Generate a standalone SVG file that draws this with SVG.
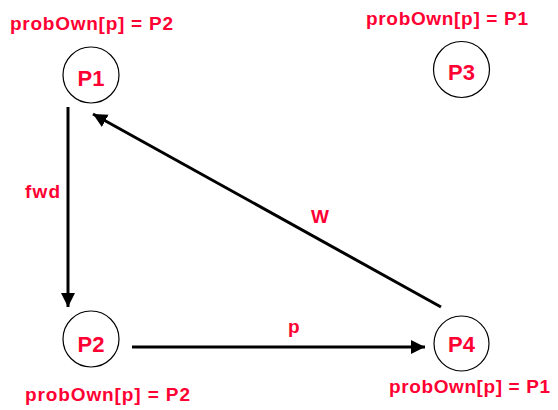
<svg xmlns="http://www.w3.org/2000/svg" width="558" height="410" viewBox="0 0 558 410">
<style>
.node{fill:#fff;stroke:#000;stroke-width:1.2}
.nl{font-family:"Liberation Sans",Arial,sans-serif;font-weight:bold;font-size:22px;fill:#ff0033;text-anchor:middle}
.lab{font-family:"Liberation Sans",Arial,sans-serif;font-weight:bold;font-size:19px;fill:#ff0033}
.edge{stroke:#000;stroke-width:3;fill:none}
</style>
<defs>
<marker id="arr" markerUnits="userSpaceOnUse" markerWidth="16" markerHeight="15" refX="14" refY="7" orient="auto">
<path d="M0,0 L14,7 L0,14 z" fill="#000"/>
</marker>
</defs>
<rect width="558" height="410" fill="#fff"/>
<g id="connectors">
<line class="edge" x1="68" y1="107" x2="68" y2="307" marker-end="url(#arr)"/>
<line class="edge" x1="441" y1="307" x2="93" y2="114" marker-end="url(#arr)"/>
<line class="edge" x1="132" y1="347" x2="425" y2="347" marker-end="url(#arr)"/>
<text class="lab" x="25" y="198" textLength="35" lengthAdjust="spacing">fwd</text>
<text class="lab" x="311" y="223" font-size="20">W</text>
<text class="lab" x="288" y="333">p</text>
</g>
<g id="P1">
<circle class="node" cx="91" cy="75" r="28"/>
<text class="nl" x="91" y="86">P1</text>
<text class="lab" x="10" y="30" textLength="163" lengthAdjust="spacing">probOwn[p] = P2</text>
</g>
<g id="P3">
<circle class="node" cx="461.5" cy="69.5" r="28"/>
<text class="nl" x="461.5" y="80">P3</text>
<text class="lab" x="366" y="25" textLength="162" lengthAdjust="spacing">probOwn[p] = P1</text>
</g>
<g id="P2">
<circle class="node" cx="91" cy="339" r="28"/>
<text class="nl" x="91" y="351.5">P2</text>
<text class="lab" x="25" y="401" textLength="165" lengthAdjust="spacing">probOwn[p] = P2</text>
</g>
<g id="P4">
<circle class="node" cx="461.5" cy="343.5" r="27.5"/>
<text class="nl" x="461.5" y="351.5">P4</text>
<text class="lab" x="389" y="393" textLength="161" lengthAdjust="spacing">probOwn[p] = P1</text>
</g>
</svg>
